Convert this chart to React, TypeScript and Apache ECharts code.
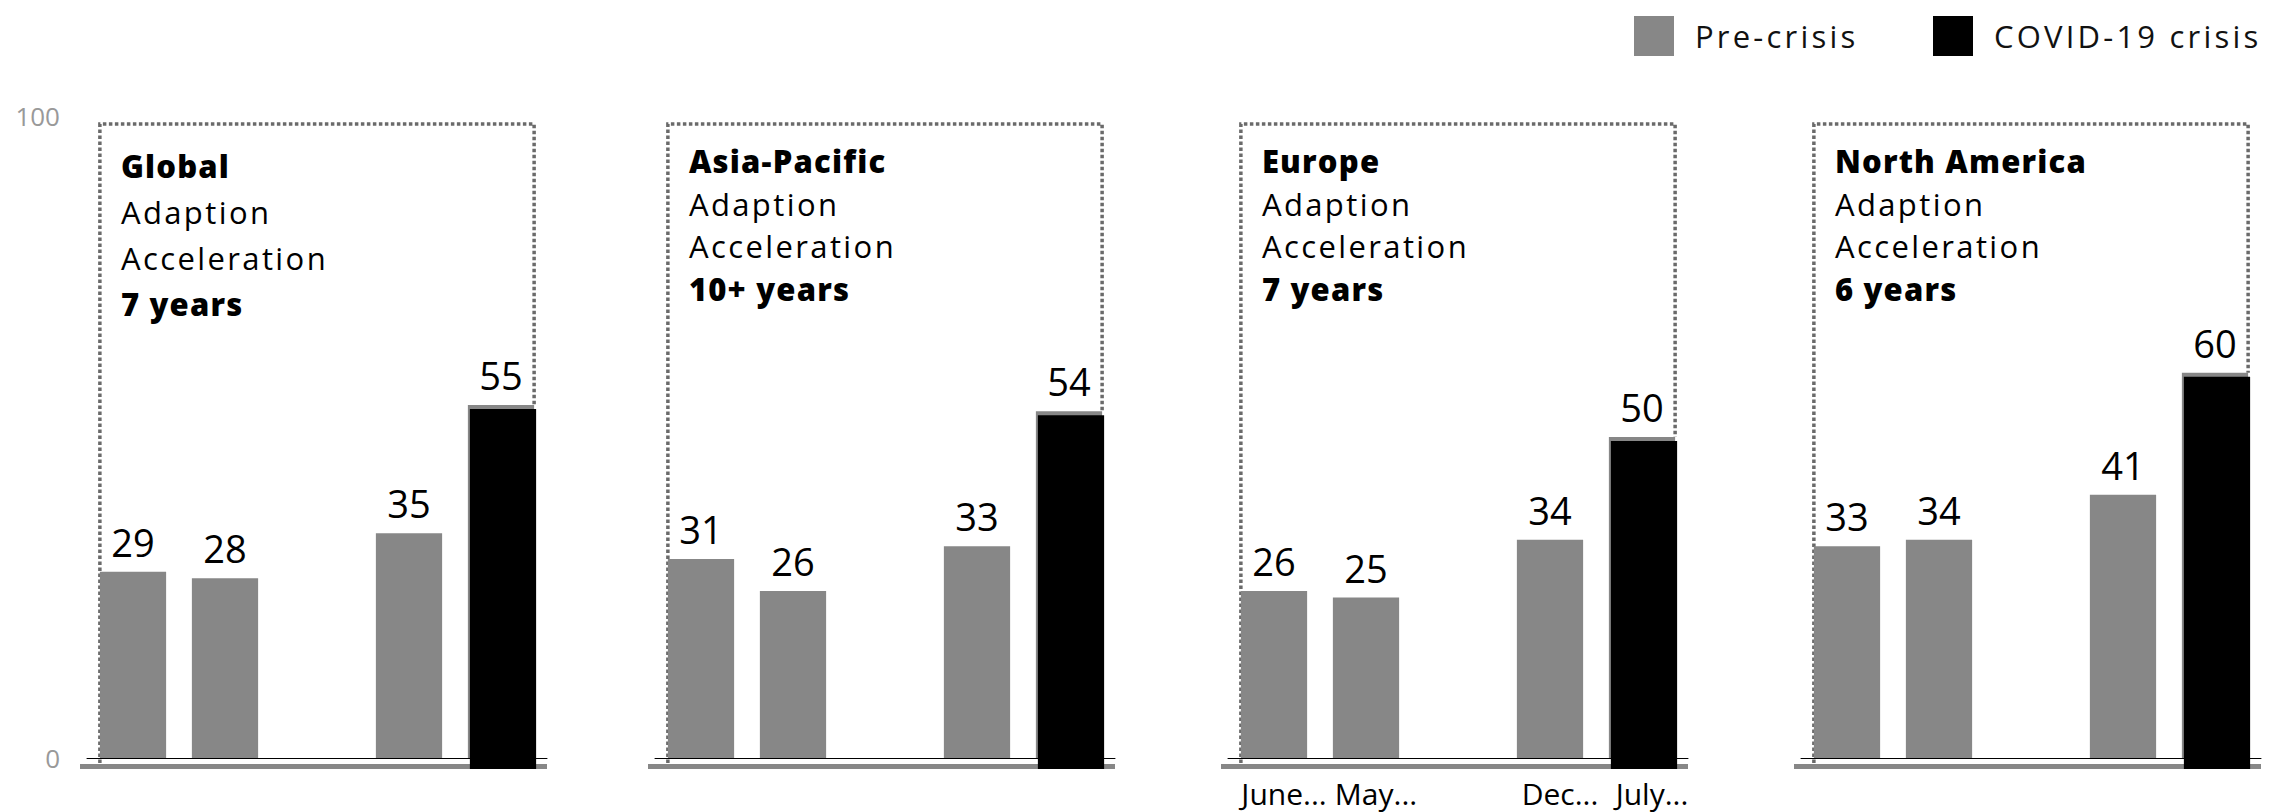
import React, { useEffect, useRef } from 'react';
import * as echarts from 'echarts';

// ---------- data ----------
const REGIONS = ['Global', 'Asia-Pacific', 'Europe', 'North America'];
const ACCELERATION = ['7 years', '10+ years', '7 years', '6 years'];
const SUBTITLE = ['Adaption', 'Acceleration'];
const PERIODS = ['June...', 'May...', '', 'Dec...', 'July...'];
const PRE_CRISIS_GLOBAL = [29, 28, null, 35, null];
const PRE_CRISIS_APAC = [31, 26, null, 33, null];
const PRE_CRISIS_EUROPE = [26, 25, null, 34, null];
const PRE_CRISIS_NA = [33, 34, null, 41, null];
const COVID_CRISIS = [55, 54, 50, 60];
const COVID_INDEX = 4;
const Y_TICKS = [0, 100];
const SERIES_NAMES = ['Pre-crisis', 'COVID-19 crisis'];

const PRE_CRISIS = [PRE_CRISIS_GLOBAL, PRE_CRISIS_APAC, PRE_CRISIS_EUROPE, PRE_CRISIS_NA];

// ---------- layout / style ----------
const W = 2285;
const H = 812;
const GRID_LEFTS = [87, 655, 1228, 1801];
const GRID_WIDTH = 460;
const GRID_TOP = 116;
const GRID_BOTTOM = 54;
const BAR_RATIO = 0.72;
const FONT = "'Open Sans', 'Noto Sans', sans-serif";
const GRAY = '#878787';
const DOT_GRAY = '#6a6a6a';
const FIRST_LINE = [42, 37, 37, 37];
const LINE_GAP = [46, 42.5, 42.5, 42.5];
const LEGEND_LEFTS = [1629, 1928];
const SPACING_LIGHT = 2.4;
const SPACING_BOLD = 1.2;
const SPACING_LEGEND = 3.2;

function makeCovidRenderer(panel: number) {
  return (params: any, api: any) => {
    const idx = api.value(0);
    const val = api.value(1);
    const band = api.size([1, 0])[0];
    const bw = band * BAR_RATIO;
    const top = api.coord([idx, val]);
    const cx = top[0];
    const topY = top[1];
    const baseY = api.coord([idx, 0])[1];
    const firstX = api.coord([0, 0])[0];
    const maxY = api.coord([idx, Y_TICKS[Y_TICKS.length - 1]])[1];
    const boxL = firstX - bw / 2;
    const boxR = cx + bw / 2;
    const boxT = maxY + 8;
    const gridL = firstX - band / 2;
    const gridR = cx + band / 2;

    const lines = [REGIONS[panel], SUBTITLE[0], SUBTITLE[1], ACCELERATION[panel]];
    const textEls = lines.map((t, i) => ({
      type: 'text',
      x: boxL + 21,
      y: boxT + FIRST_LINE[panel] + i * LINE_GAP[panel],
      style: {
        text: t,
        fill: '#000',
        fontSize: 31,
        fontFamily: FONT,
        fontWeight: i === 0 || i === 3 ? 800 : 400,
        align: 'left',
        verticalAlign: 'middle',
      },
    }));

    return {
      type: 'group',
      children: [
        {
          type: 'rect',
          shape: { x: gridL - 7, y: baseY + 6, width: gridR - gridL + 7, height: 5 },
          style: { fill: GRAY },
        },
        {
          type: 'polyline',
          shape: {
            points: [
              [boxL, baseY + 5],
              [boxL, boxT],
              [boxR, boxT],
              [boxR, topY],
            ],
          },
          style: { stroke: DOT_GRAY, lineWidth: 3.5, lineDash: [3.5, 2.5], fill: null },
        },
        ...textEls,
        {
          type: 'rect',
          shape: { x: cx - bw / 2, y: topY, width: bw, height: baseY - topY },
          style: { fill: GRAY },
        },
        {
          type: 'rect',
          shape: { x: cx - bw / 2 + 2, y: topY + 4, width: bw, height: baseY + 11 - topY - 4 },
          style: { fill: '#000' },
        },
        {
          type: 'text',
          x: cx,
          y: topY - 11,
          style: {
            text: String(val),
            fill: '#000',
            fontSize: 38,
            fontFamily: FONT,
            fontWeight: 400,
            align: 'center',
            verticalAlign: 'bottom',
          },
        },
      ],
    };
  };
}

function applyLetterSpacing(root: HTMLElement | null) {
  if (!root) return;
  const light = new Set(SUBTITLE);
  const bold = new Set([...REGIONS, ...ACCELERATION]);
  const legend = new Set(SERIES_NAMES);
  root.querySelectorAll('text').forEach((el) => {
    const t = (el.textContent || '').trim();
    let s = 0;
    if (light.has(t)) s = SPACING_LIGHT;
    else if (bold.has(t)) s = SPACING_BOLD;
    else if (legend.has(t)) s = SPACING_LEGEND;
    if (s) el.setAttribute('letter-spacing', String(s));
  });
}

export default function App() {
  const ref = useRef<HTMLDivElement>(null);

  useEffect(() => {
    if (!ref.current) return;
    const chart = echarts.init(ref.current, undefined, { renderer: 'svg', width: W, height: H });

    const grid = GRID_LEFTS.map((left) => ({
      left,
      width: GRID_WIDTH,
      top: GRID_TOP,
      bottom: GRID_BOTTOM,
      containLabel: false,
    }));

    const xAxis = GRID_LEFTS.map((_, i) => ({
      type: 'category',
      gridIndex: i,
      data: PERIODS,
      axisLine: { show: true, lineStyle: { color: '#000', width: 1 } },
      axisTick: { show: false },
      axisLabel: {
        show: i === 2,
        color: '#000',
        fontSize: 30,
        fontFamily: FONT,
        fontWeight: 400,
        margin: 20,
        padding: [0, 0, 0, 20],
        interval: 0,
      },
      splitLine: { show: false },
    }));

    const yAxis = GRID_LEFTS.map((_, i) => ({
      type: 'value',
      gridIndex: i,
      min: Y_TICKS[0],
      max: Y_TICKS[Y_TICKS.length - 1],
      interval: Y_TICKS[1] - Y_TICKS[0],
      axisLine: { show: false },
      axisTick: { show: false },
      splitLine: { show: false },
      axisLabel: {
        show: i === 0,
        color: '#999999',
        fontSize: 26,
        fontFamily: FONT,
        fontWeight: 400,
        margin: 27,
      },
    }));

    const customSeries = GRID_LEFTS.map((_, i) => ({
      type: 'custom',
      name: SERIES_NAMES[1],
      xAxisIndex: i,
      yAxisIndex: i,
      itemStyle: { color: '#000' },
      data: [[COVID_INDEX, COVID_CRISIS[i]]],
      encode: { x: 0, y: 1 },
      renderItem: makeCovidRenderer(i),
      silent: true,
    }));

    const barSeries = GRID_LEFTS.map((_, i) => ({
      type: 'bar',
      name: SERIES_NAMES[0],
      xAxisIndex: i,
      yAxisIndex: i,
      data: PRE_CRISIS[i],
      barWidth: `${BAR_RATIO * 100}%`,
      itemStyle: { color: GRAY },
      label: {
        show: true,
        position: 'top',
        distance: 11,
        color: '#000',
        fontSize: 38,
        fontFamily: FONT,
        fontWeight: 400,
      },
      silent: true,
    }));

    const legendColors = [GRAY, '#000'];
    const legend = SERIES_NAMES.map((name, i) => ({
      left: LEGEND_LEFTS[i],
      top: 11,
      icon: 'rect',
      itemWidth: 40,
      itemHeight: 40,
      selectedMode: false,
      data: [{ name, itemStyle: { color: legendColors[i] } }],
      textStyle: {
        color: '#111',
        fontSize: 31,
        fontFamily: FONT,
        fontWeight: 400,
        padding: [0, 0, 0, 16],
      },
    }));

    chart.setOption({
      animation: false,
      backgroundColor: '#fff',
      legend,
      grid,
      xAxis,
      yAxis,
      series: [...customSeries, ...barSeries],
    });

    applyLetterSpacing(ref.current);
    chart.on('finished', () => applyLetterSpacing(ref.current));

    return () => chart.dispose();
  }, []);

  return (
    <div
      ref={ref}
      style={{ position: 'absolute', left: 0, top: 0, width: W, height: H, background: '#fff' }}
    />
  );
}
